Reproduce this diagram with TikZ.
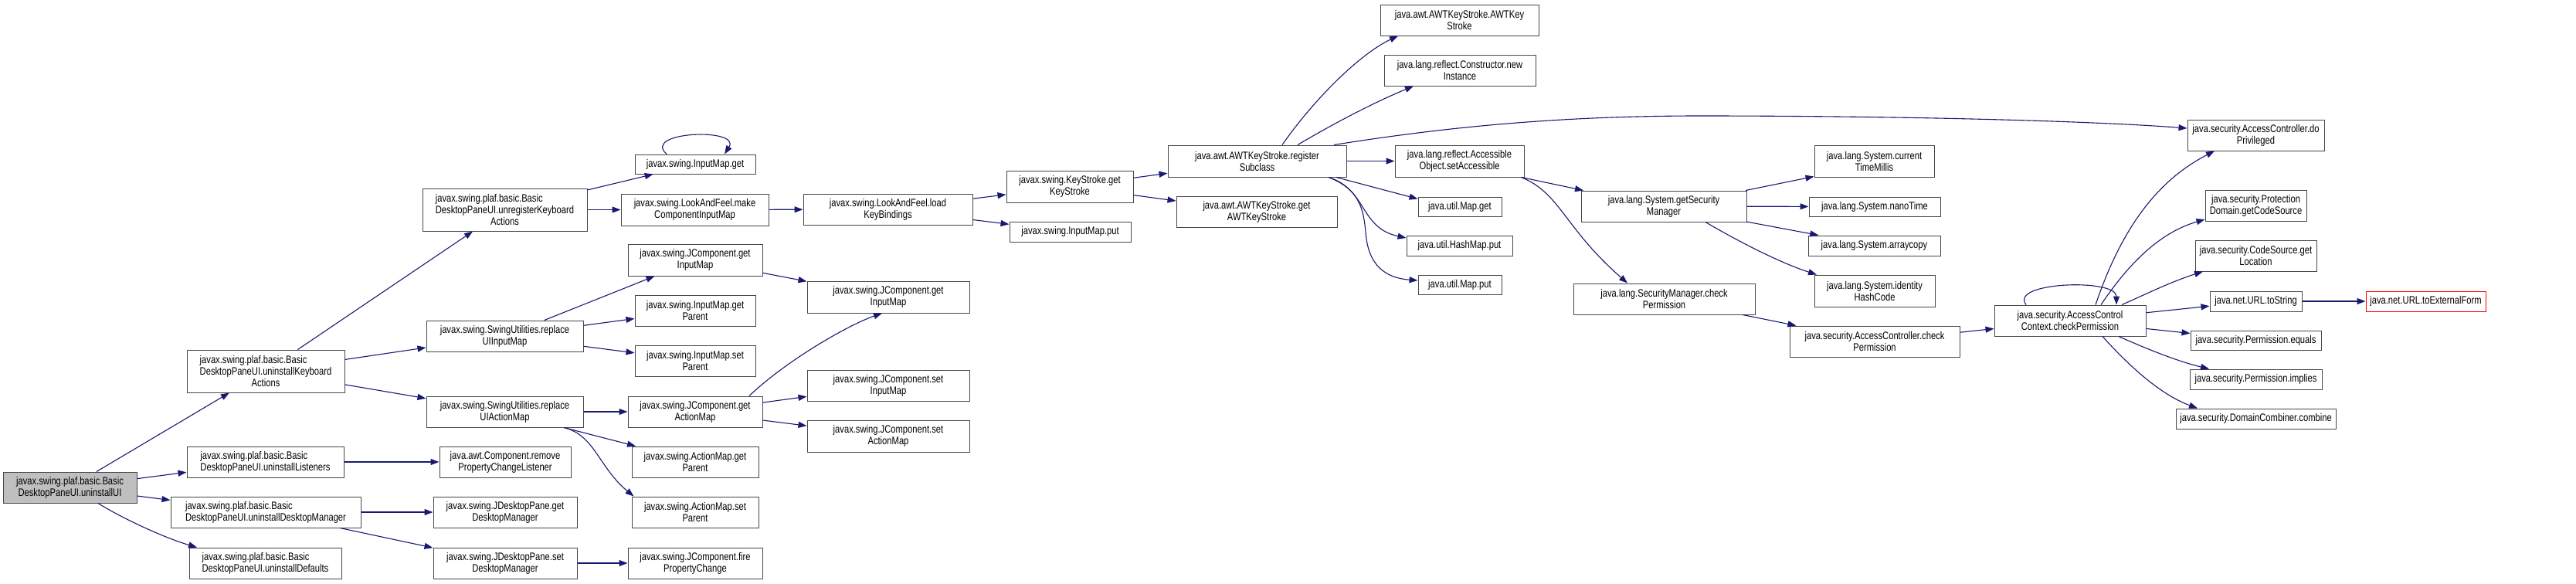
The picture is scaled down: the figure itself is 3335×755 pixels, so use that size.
\documentclass[tikz,border=0pt]{standalone}
\usepackage{fontspec}
\setmainfont{Liberation Sans}[FakeStretch=0.8]
\usetikzlibrary{arrows.meta}
\definecolor{edgeblue}{HTML}{191970}
\definecolor{rootfill}{HTML}{BFBFBF}
\definecolor{redborder}{HTML}{FF0000}
\newcommand{\firstleft}[2]{\rlap{#1}\phantom{#2}}
\begin{document}
\begin{tikzpicture}[x=1pt,y=-1pt,
  box/.style={draw=black!72, line width=1pt, fill=white, inner sep=0pt, align=center,
              font=\fontsize{14}{15}\selectfont},
  sz/.style 2 args={minimum width=#1pt, minimum height=#2pt},
  edge/.style={draw=edgeblue, line width=1.1pt, -{Triangle[length=11pt,width=8pt]}}]
\useasboundingbox (0,0) rectangle (3335,755);

% column 0
\node[box, sz={173}{40}, fill=rootfill] (root) at (90.5,631) {javax.swing.plaf.basic.Basic\\DesktopPaneUI.uninstallUI};
% column 1
\node[box, sz={204}{55}] (uKA) at (344,480.5) {\firstleft{javax.swing.plaf.basic.Basic}{DesktopPaneUI.uninstallKeyboard}\\DesktopPaneUI.uninstallKeyboard\\Actions};
\node[box, sz={203}{40}] (uL) at (343.5,598) {\firstleft{javax.swing.plaf.basic.Basic}{DesktopPaneUI.uninstallListeners}\\DesktopPaneUI.uninstallListeners};
\node[box, sz={246}{40}] (uDM) at (344,663) {\firstleft{javax.swing.plaf.basic.Basic}{DesktopPaneUI.uninstallDesktopManager}\\DesktopPaneUI.uninstallDesktopManager};
\node[box, sz={197}{40}] (uDef) at (343.5,729) {\firstleft{javax.swing.plaf.basic.Basic}{DesktopPaneUI.uninstallDefaults}\\DesktopPaneUI.uninstallDefaults};
% column 2
\node[box, sz={213}{55}] (unreg) at (653.5,271.5) {\firstleft{javax.swing.plaf.basic.Basic}{DesktopPaneUI.unregisterKeyboard}\\DesktopPaneUI.unregisterKeyboard\\Actions};
\node[box, sz={203}{40}] (rUIIM) at (653.5,435) {javax.swing.SwingUtilities.replace\\UIInputMap};
\node[box, sz={203}{40}] (rUIAM) at (653.5,533) {javax.swing.SwingUtilities.replace\\UIActionMap};
\node[box, sz={170}{40}] (rmPCL) at (654,598) {java.awt.Component.remove\\PropertyChangeListener};
\node[box, sz={186}{40}] (jdpGet) at (654,663) {javax.swing.JDesktopPane.get\\DesktopManager};
\node[box, sz={186}{40}] (jdpSet) at (654,729) {javax.swing.JDesktopPane.set\\DesktopManager};
% column 3
\node[box, sz={156}{25}] (imGet) at (900,212.5) {javax.swing.InputMap.get};
\node[box, sz={191}{41}] (mkCIM) at (899.5,271.5) {javax.swing.LookAndFeel.make\\ComponentInputMap};
\node[box, sz={174}{41}] (jcGetIM1) at (900,336.5) {javax.swing.JComponent.get\\InputMap};
\node[box, sz={156}{40}] (imGetP) at (900,402) {javax.swing.InputMap.get\\Parent};
\node[box, sz={156}{40}] (imSetP) at (900,467) {javax.swing.InputMap.set\\Parent};
\node[box, sz={174}{40}] (jcGetAM) at (900,533) {javax.swing.JComponent.get\\ActionMap};
\node[box, sz={164}{40}] (amGetP) at (900,598) {javax.swing.ActionMap.get\\Parent};
\node[box, sz={164}{40}] (amSetP) at (900,663) {javax.swing.ActionMap.set\\Parent};
\node[box, sz={174}{40}] (jcFire) at (900,729) {javax.swing.JComponent.fire\\PropertyChange};
% column 4
\node[box, sz={219}{40}] (loadKB) at (1149.5,271) {javax.swing.LookAndFeel.load\\KeyBindings};
\node[box, sz={210}{41}] (jcGetIM2) at (1150,384.5) {javax.swing.JComponent.get\\InputMap};
\node[box, sz={210}{40}] (jcSetIM) at (1150,499) {javax.swing.JComponent.set\\InputMap};
\node[box, sz={210}{41}] (jcSetAM) at (1150,564.5) {javax.swing.JComponent.set\\ActionMap};
% column 5
\node[box, sz={164}{41}] (ksGet) at (1385,241.5) {javax.swing.KeyStroke.get\\KeyStroke};
\node[box, sz={157}{26}] (imPut) at (1385.5,300) {javax.swing.InputMap.put};
% column 6
\node[box, sz={231}{41}] (regSub) at (1627.5,208.5) {java.awt.AWTKeyStroke.register\\Subclass};
\node[box, sz={208}{40}] (getAWT) at (1627,274) {java.awt.AWTKeyStroke.get\\AWTKeyStroke};
% column 7
\node[box, sz={205}{40}] (awtCtor) at (1889.5,26) {java.awt.AWTKeyStroke.AWTKey\\Stroke};
\node[box, sz={196}{40}] (newInst) at (1890,91) {java.lang.reflect.Constructor.new\\Instance};
\node[box, sz={167}{41}] (setAcc) at (1889.5,208.5) {java.lang.reflect.Accessible\\Object.setAccessible};
\node[box, sz={108}{25}] (mapGet) at (1890,267.5) {java.util.Map.get};
\node[box, sz={137}{26}] (hmPut) at (1889.5,318) {java.util.HashMap.put};
\node[box, sz={108}{25}] (mapPut) at (1890,368.5) {java.util.Map.put};
% column 8
\node[box, sz={214}{40}] (getSM) at (2154,267) {java.lang.System.getSecurity\\Manager};
\node[box, sz={235}{40}] (smCheck) at (2154.5,387) {java.lang.SecurityManager.check\\Permission};
% column 9
\node[box, sz={155}{41}] (curMs) at (2426.5,208.5) {java.lang.System.current\\TimeMillis};
\node[box, sz={170}{25}] (nano) at (2427,267.5) {java.lang.System.nanoTime};
\node[box, sz={171}{26}] (arrcp) at (2426.5,318) {java.lang.System.arraycopy};
\node[box, sz={156}{41}] (idHash) at (2427,376.5) {java.lang.System.identity\\HashCode};
\node[box, sz={220}{40}] (acCheck) at (2427,442) {java.security.AccessController.check\\Permission};
% column 10
\node[box, sz={196}{40}] (accCheck) at (2680,415) {java.security.AccessControl\\Context.checkPermission};
% column 11
\node[box, sz={177}{40}] (doPriv) at (2920.5,175) {java.security.AccessController.do\\Privileged};
\node[box, sz={131}{40}] (pdGet) at (2920.5,266) {java.security.Protection\\Domain.getCodeSource};
\node[box, sz={157}{40}] (csGet) at (2920.5,331) {java.security.CodeSource.get\\Location};
\node[box, sz={119}{26}] (urlTS) at (2920.5,390) {java.net.URL.toString};
\node[box, sz={169}{25}] (permEq) at (2920.5,440.5) {java.security.Permission.equals};
\node[box, sz={171}{26}] (permImp) at (2920.5,491) {java.security.Permission.implies};
\node[box, sz={207}{26}] (domComb) at (2920.5,542) {java.security.DomainCombiner.combine};
% column 12
\node[box, sz={155}{26}, draw=redborder] (urlExt) at (3140.5,390) {java.net.URL.toExternalForm};

% ---- edges ----
\draw[edge] (root) -- (uKA);
\draw[edge] (root) -- (uL);
\draw[edge] (root) -- (uDM);
\draw[edge] ([xshift=36.5pt]root.south) .. controls (160,672) and (215,697) .. ([xshift=-88.5pt]uDef.north);

\draw[edge] (uKA) -- (unreg);
\draw[edge] (uKA) -- (rUIIM);
\draw[edge] (uKA) -- (rUIAM);
\draw[edge] (uL) -- (rmPCL);
\draw[edge] (uDM) -- (jdpGet);
\draw[edge] (uDM) -- (jdpSet);

\draw[edge] (unreg) -- (imGet);
\draw[edge] (unreg) -- (mkCIM);
\draw[edge] ([xshift=-37pt]imGet.north) .. controls (830,170) and (960,165) .. ([xshift=38pt]imGet.north);
\draw[edge] (mkCIM) -- (loadKB);
\draw[edge] (loadKB) -- (ksGet);
\draw[edge] (loadKB) -- (imPut);
\draw[edge] (ksGet) -- (regSub);
\draw[edge] (ksGet) -- (getAWT);

\draw[edge] ([xshift=32.5pt]regSub.north) .. controls (1700,130) and (1760,70) .. ([xshift=-79.5pt]awtCtor.south);
\draw[edge] ([xshift=52.5pt]regSub.north) .. controls (1735,155) and (1785,130) .. ([xshift=-60pt]newInst.south);
\draw[edge] ([xshift=99.5pt]regSub.north) .. controls (1850,168) and (2000,150) .. (2200,150)
            .. controls (2450,150) and (2700,156) .. ([yshift=9pt]doPriv.west);
\draw[edge] (regSub) -- (setAcc);
\draw[edge] ([xshift=102.5pt]regSub.south) -- ([yshift=-3pt]mapGet.north west);
\draw[edge] ([xshift=92.5pt]regSub.south) .. controls (1770,245) and (1760,295) .. ([yshift=10pt]hmPut.west);
\draw[edge] ([xshift=92.5pt]regSub.south) .. controls (1760,245) and (1765,270) .. (1768,300)
            .. controls (1771,345) and (1795,360) .. ([yshift=5.5pt]mapPut.west);

\draw[edge] ([xshift=80pt]setAcc.south) -- ([xshift=-104pt]getSM.north);
\draw[edge] ([xshift=80pt]setAcc.south) .. controls (2020,250) and (2025,295) .. ([xshift=-47.5pt]smCheck.north);

\draw[edge] ([xshift=106pt]getSM.north) -- ([yshift=-20pt]curMs.west);
\draw[edge] (getSM) -- (nano);
\draw[edge] (getSM) -- (arrcp);
\draw[edge] ([xshift=54pt]getSM.south) .. controls (2260,318) and (2310,342) .. ([xshift=-75pt]idHash.north);

\draw[edge] (smCheck) -- (acCheck);
\draw[edge] (acCheck) -- (accCheck);

\draw[edge] ([xshift=-57pt]accCheck.north) .. controls (2600,365) and (2740,360) .. ([xshift=60pt]accCheck.north);
\draw[edge] ([xshift=33pt]accCheck.north) .. controls (2745,300) and (2790,235) .. ([xshift=-53.5pt]doPriv.south);
\draw[edge] ([xshift=40pt]accCheck.north) .. controls (2760,335) and (2800,300) .. ([yshift=-18pt]pdGet.west);
\draw[edge] ([xshift=67pt]accCheck.north) .. controls (2780,380) and (2810,365) .. ([xshift=-68.5pt]csGet.south);
\draw[edge] (accCheck) -- (urlTS);
\draw[edge] (urlTS) -- (urlExt);
\draw[edge] (accCheck) -- (permEq);
\draw[edge] ([xshift=63pt]accCheck.south) .. controls (2780,452) and (2820,468) .. ([xshift=-60.5pt]permImp.north);
\draw[edge] ([xshift=42pt]accCheck.south) .. controls (2760,478) and (2800,512) .. ([xshift=-75.5pt]domComb.north);

\draw[edge] (rUIIM) -- (jcGetIM1);
\draw[edge] (rUIIM) -- (imGetP);
\draw[edge] (rUIIM) -- (imSetP);
\draw[edge] (jcGetIM1) -- (jcGetIM2);
\draw[edge] (rUIAM) -- (jcGetAM);
\draw[edge] ([xshift=76.5pt]rUIAM.south) -- ([xshift=-77pt]amGetP.north);
\draw[edge] ([xshift=76.5pt]rUIAM.south) .. controls (770,563) and (775,605) .. ([xshift=3pt]amSetP.north west);
\draw[edge] ([xshift=70pt]jcGetAM.north) .. controls (1020,465) and (1100,420) .. ([xshift=-8pt]jcGetIM2.south);
\draw[edge] (jcGetAM) -- (jcSetIM);
\draw[edge] (jcGetAM) -- (jcSetAM);
\draw[edge] (jdpSet) -- (jcFire);
\end{tikzpicture}
\end{document}
